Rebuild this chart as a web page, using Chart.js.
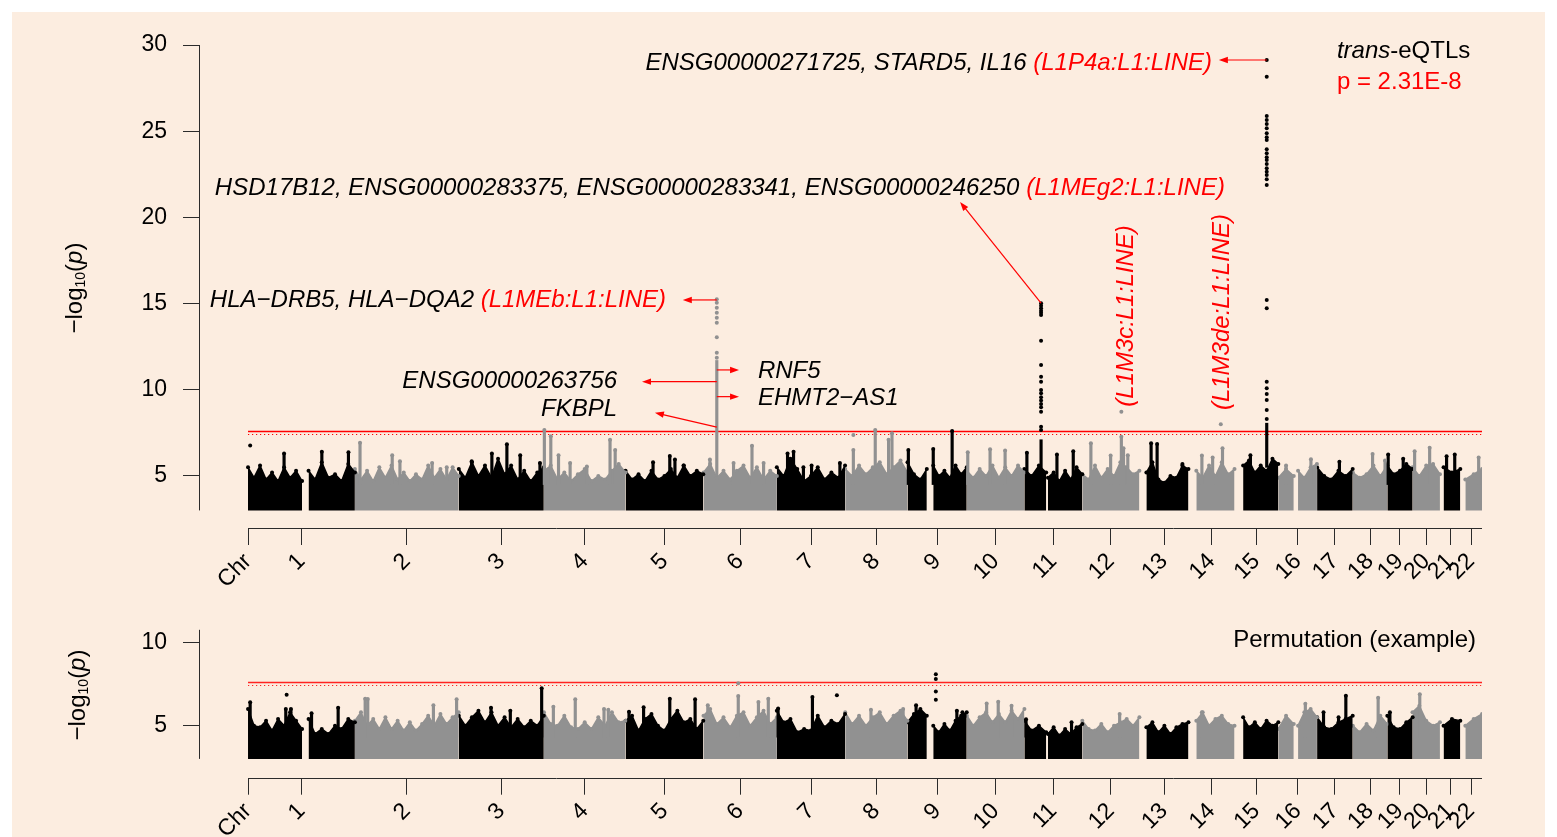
<!DOCTYPE html>
<html>
<head>
<meta charset="utf-8">
<title>trans-eQTL Manhattan plot</title>
<script src="https://cdn.jsdelivr.net/npm/chart.js@4.4.1/dist/chart.umd.min.js"></script>
<style>
  html, body { margin: 0; padding: 0; background: #ffffff; }
  body { position: relative; width: 1557px; height: 837px; overflow: hidden; }
  #paper { position: absolute; left: 12px; top: 12px; width: 1533px; height: 825px; background: #fcede0; }
  canvas { position: absolute; left: 0; }
  #mainChart { top: 0; }
  #permChart { top: 600px; }
</style>
</head>
<body>
<div id="paper"></div>
<canvas id="mainChart" width="1557" height="600"></canvas>
<canvas id="permChart" width="1557" height="237"></canvas>
<script>
const FONT = '"Liberation Sans", Arial, Helvetica, sans-serif';
const BLACK = '#000000';
const GREY = '#919191';
const RED = '#ff0000';
const AXIS = '#2b2b2b';
const TEXT_SIZE = 24;

// ---- data -------------------------------------------------------------

const chromosomes = ['1', '2', '3', '4', '5', '6', '7', '8', '9', '10', '11',
  '12', '13', '14', '15', '16', '17', '18', '19', '20', '21', '22'];
const chromLengths = [248.96, 242.19, 198.30, 190.21, 181.54, 170.81, 159.35, 145.14,
  138.39, 133.80, 135.09, 133.28, 114.36, 107.04, 101.99, 90.34, 83.26, 80.37,
  58.62, 64.44, 46.71, 50.82]; // Mb
const tickLabels = ['Chr', ...chromosomes];

// stretches of each chromosome that carry tested SNPs: [chr, from Mb, to Mb]
const segments = [
  [1, 0, 126], [1, 141, 249], [2, 0, 242], [3, 0, 198], [4, 0, 190], [5, 0, 181],
  [6, 0, 171], [7, 0, 159], [8, 0, 145], [9, 0, 45], [9, 60, 138], [10, 0, 134],
  [11, 0, 51], [11, 55, 135], [12, 0, 133], [13, 16, 114], [14, 18, 107], [15, 20, 102],
  [16, 0, 36], [16, 46, 90], [17, 0, 83], [18, 0, 80], [19, 0, 59], [20, 0, 64],
  [21, 8, 47], [22, 12, 51]
];

const thresholds = [7.636, 7.46]; // -log10(2.31E-8) solid, dotted reference

// upper edge of the dense SNP cloud, read along each segment (trans-eQTLs)
const mainEnvelope = [
  [5.5, 4.9, 5.6, 4.8, 5.2, 4.7, 5.5, 4.9, 5.3, 4.7],
  [5.3, 4.8, 5.8, 4.9, 5.1, 4.7, 5.7, 5.2],
  [5.4, 4.8, 5.3, 4.7, 5.5, 4.9, 5.6, 4.8, 5.2, 4.7, 5.1, 4.8, 5.6, 4.9, 5.4, 4.8, 5.5, 5.0],
  [5.4, 4.9, 5.8, 5.0, 5.6, 4.9, 6.0, 5.1, 5.6, 4.8, 5.3, 4.7, 5.2, 5.5],
  [5.3, 5.6, 4.8, 5.2, 4.7, 5.1, 5.4, 4.7, 5.0, 4.8, 5.3, 5.7, 5.2],
  [5.3, 4.8, 5.1, 4.7, 5.3, 4.8, 5.0, 5.4, 4.9, 5.6, 5.0, 5.3, 5.1],
  [5.2, 5.7, 4.9, 5.3, 4.8, 5.3, 5.6, 4.9, 5.5, 4.8, 5.3, 5.0],
  [5.5, 5.0, 6.0, 5.4, 4.7, 5.0, 5.5, 4.8, 5.2, 4.9, 5.6],
  [5.4, 5.0, 5.6, 5.1, 5.5, 5.8, 5.1, 5.5, 5.9, 5.2],
  [5.8, 5.1, 4.8, 5.4],
  [5.6, 5.0, 5.3, 4.9, 5.6, 5.1, 5.5],
  [5.3, 4.9, 5.4, 5.0, 5.6, 4.9, 5.5, 5.0, 5.6, 5.2],
  [5.4, 5.0, 5.6, 5.2],
  [4.9, 5.2, 4.7, 5.3, 4.8, 5.5, 5.1],
  [5.1, 4.8, 5.6, 4.9, 5.4, 5.0, 5.8, 5.5, 5.1, 5.3],
  [5.2, 5.8, 4.8, 4.6, 5.0, 4.9, 5.6, 5.4],
  [5.3, 4.9, 5.6, 5.0, 5.8, 5.1, 5.4],
  [5.6, 5.9, 5.2, 5.6, 5.3, 6.0, 5.7],
  [4.9, 5.4, 5.0],
  [5.3, 4.9, 5.5, 5.7],
  [5.5, 5.0, 4.8, 5.3, 5.0, 5.4],
  [5.2, 4.9, 5.1, 5.6, 5.0, 5.6],
  [5.6, 5.1, 5.3, 5.7, 5.4],
  [5.5, 5.0, 5.6, 5.7, 5.1],
  [5.5, 5.2, 5.4],
  [4.8, 5.1, 5.4]
];

// thin columns of SNPs rising above the cloud: [chr, Mb, top]
const mainSpikes = [
  [1, 84, 6.3], [1, 172, 6.4], [1, 234, 6.37],
  [2, 12, 6.93], [2, 87, 6.2], [2, 105, 5.85], [2, 180, 5.75], [2, 214, 5.5],
  [3, 30, 5.85], [3, 77, 6.3], [3, 112, 6.84], [3, 143, 6.2], [3, 189, 5.75],
  [4, 1, 7.67], [4, 16, 7.3], [4, 34, 6.2], [4, 61, 5.75], [4, 100, 5.55], [4, 154, 7.1], [4, 166, 6.5],
  [5, 64, 5.8], [5, 103, 6.15], [5, 115, 5.95], [5, 135, 5.6],
  [6, 15, 5.95], [6, 70, 5.75], [6, 113, 6.75], [6, 140, 5.75],
  [7, 25, 6.3], [7, 39, 6.4], [7, 62, 5.5], [7, 81, 5.6], [7, 147, 5.75],
  [8, 19, 6.5], [8, 70, 7.67], [8, 101, 7.1], [8, 109, 7.48],
  [9, 2, 6.5], [9, 60, 6.57], [9, 104, 7.6],
  [10, 2, 6.37], [10, 54, 6.55], [10, 89, 6.47],
  [11, 6, 6.34], [11, 76, 6.24], [11, 114, 6.43],
  [12, 20, 6.9], [12, 66, 6.18], [12, 91, 7.28], [12, 96, 6.6], [12, 106, 6.2],
  [13, 27, 6.9], [13, 41, 6.85], [13, 100, 5.7],
  [14, 31, 6.18], [14, 56, 6.07], [14, 79, 6.6],
  [15, 37, 6.2],
  [16, 18, 5.6], [16, 76, 5.97],
  [17, 52, 5.83],
  [18, 46, 6.28], [18, 75, 5.9],
  [19, 2, 6.24], [19, 37, 6.0],
  [20, 5, 6.43], [20, 40, 6.63],
  [21, 15, 6.14], [21, 34, 6.24],
  [22, 43, 6.07]
];

// single SNPs standing clear of the cloud: [chr, Mb, -log10 p]
const mainHits = [[1, 5, 6.76], [8, 19, 7.38], [12, 91, 8.73], [14, 75, 8.0]];

// the three lead trans-eQTL loci (chr6 HLA, chr11, chr15)
const leadLoci = [[6, 31], [11, 39], [15, 75]];
const leadColumns = [[5.0, 11.7], [5.0, 7.1], [5.5, 8.06]];
const leadValues = [
  [15.25, 15.05, 14.75, 14.46, 14.17, 13.88, 13.05, 12.15, 11.85],
  [15.02, 14.87, 14.73, 14.59, 14.47, 14.34, 12.85, 11.44, 10.76, 10.47, 9.99, 9.8,
    9.57, 9.37, 9.18, 8.99, 8.73, 7.86, 7.67],
  [29.13, 28.16, 25.88, 25.65, 25.42, 25.17, 24.88, 24.65, 24.49, 23.95, 23.72, 23.49,
    23.33, 23.1, 22.85, 22.65, 22.46, 22.21, 21.88, 15.21, 14.73, 10.47, 10.09, 9.76,
    9.41, 8.83, 8.31]
];

// permutation (example)
const permEnvelope = [
  [6.0, 5.0, 4.9, 5.3, 4.7, 5.4, 5.0, 5.8, 5.3, 4.8],
  [5.4, 4.5, 4.8, 4.5, 5.0, 4.8, 5.4, 5.2],
  [5.3, 5.8, 5.0, 5.4, 4.8, 5.5, 4.8, 5.3, 4.7, 5.2, 4.7, 5.1, 5.6, 5.0, 5.7, 5.1, 5.5, 5.8],
  [5.6, 5.0, 5.5, 5.9, 5.2, 5.8, 5.0, 5.5, 4.9, 5.4, 4.9, 5.3, 5.0, 5.6],
  [5.8, 5.1, 5.0, 5.6, 4.9, 4.8, 5.2, 4.8, 5.5, 5.0, 5.8, 5.2, 5.3],
  [5.3, 5.6, 4.7, 5.4, 5.7, 5.0, 4.7, 5.4, 5.9, 5.2, 5.4, 4.8, 5.3],
  [5.6, 6.0, 5.1, 5.5, 4.9, 5.6, 5.8, 5.0, 5.5, 5.9, 5.1, 5.5],
  [5.9, 5.2, 5.4, 4.6, 4.8, 4.7, 5.6, 4.9, 5.3, 5.1, 5.7],
  [5.8, 5.1, 5.6, 5.0, 5.5, 5.8, 5.1, 5.6, 5.9, 5.3],
  [5.2, 5.7, 6.0, 5.6],
  [5.0, 4.6, 5.1, 4.7, 5.3, 5.6, 5.8],
  [5.6, 5.0, 5.5, 5.8, 5.2, 5.7, 5.2, 5.9, 5.4, 6.0],
  [5.3, 4.7, 5.0, 4.6],
  [4.5, 4.9, 4.4, 4.8, 4.5, 4.9, 5.1],
  [5.3, 4.8, 4.7, 5.1, 4.6, 5.0, 5.2, 5.4, 5.0, 5.5],
  [4.9, 5.2, 4.6, 5.0, 4.5, 4.9, 5.1, 5.2],
  [5.3, 5.8, 5.0, 5.4, 5.6, 5.1, 5.0],
  [5.5, 4.9, 5.2, 4.8, 5.3, 5.0, 5.2],
  [4.8, 5.6, 5.1],
  [5.0, 5.8, 6.0, 5.5],
  [5.5, 4.9, 4.8, 5.2, 5.4, 5.6],
  [5.0, 4.6, 5.1, 4.7, 5.6, 5.1],
  [5.6, 4.9, 4.8, 5.2, 5.5],
  [5.8, 6.2, 5.3, 5.0, 5.2],
  [5.0, 5.4, 5.3],
  [5.0, 5.4, 5.7]
];
const permSpikes = [
  [1, 5, 6.4], [1, 88, 6.0], [1, 100, 6.0], [1, 148, 5.75], [1, 210, 6.07],
  [2, 24, 6.62], [2, 30, 6.6], [2, 183, 6.23], [2, 237, 6.58],
  [3, 75, 6.07], [3, 120, 5.9], [3, 193, 7.25],
  [4, 22, 6.13], [4, 73, 6.58], [4, 140, 6.0], [4, 150, 5.95],
  [5, 8, 5.84], [5, 42, 6.1], [5, 103, 6.62], [5, 162, 6.58],
  [6, 10, 6.23], [6, 81, 6.78], [6, 128, 6.42], [6, 151, 6.62],
  [7, 3, 6.03], [7, 83, 6.72],
  [8, 60, 5.95], [8, 135, 6.0],
  [9, 20, 6.23], [9, 115, 5.9], [9, 128, 5.8],
  [10, 46, 6.33], [10, 73, 6.43], [10, 104, 6.2],
  [11, 4, 5.38], [11, 110, 5.2],
  [12, 87, 5.7],
  [14, 31, 5.8],
  [16, 63, 6.32],
  [17, 15, 5.8], [17, 50, 5.5], [17, 67, 6.8],
  [18, 59, 6.68],
  [19, 6, 5.8],
  [20, 17, 6.89]
];
const permHits = [[1, 90, 6.86], [6, 81, 7.54], [7, 140, 6.82],
  [9, 66, 8.09], [9, 66, 7.8], [9, 66, 7.05], [9, 66, 6.55]];

// ---- helpers ----------------------------------------------------------

const chromStart = [];
let genomeLength = 0;
chromLengths.forEach(len => { chromStart.push(genomeLength); genomeLength += len; });
const chromMid = chromLengths.map((len, i) => chromStart[i] + len / 2);

const gx = (chr, pos) => chromStart[chr - 1] + pos;
const colorOf = chr => (chr % 2 ? BLACK : GREY);
const font = (size, italic) => (italic ? 'italic ' : '') + size + 'px ' + FONT;

function bandDatasets(envelope) {
  return segments.map(([chr, from, to], i) => {
    const tops = envelope[i];
    const step = (to - from) / (tops.length - 1);
    const c = colorOf(chr);
    return {
      type: 'line',
      data: tops.map((y, k) => ({ x: gx(chr, from + k * step), y })),
      borderColor: c,
      backgroundColor: c,
      borderWidth: 1.5,
      pointRadius: 2,
      pointBorderWidth: 0,
      pointBackgroundColor: c,
      tension: 0,
      fill: { value: 3 },
      order: 3
    };
  });
}

function columnDatasets(cols, thickness) {
  return [BLACK, GREY].map(c => ({
    type: 'bar',
    data: cols.filter(col => colorOf(col.chr) === c).map(col => ({ x: gx(col.chr, col.pos), y: [col.lo, col.hi] })),
    backgroundColor: c,
    barThickness: thickness,
    grouped: false,
    order: 2
  }));
}

function dotDatasets(dots) {
  return [BLACK, GREY].map(c => ({
    type: 'scatter',
    data: dots.filter(d => colorOf(d[0]) === c).map(([chr, pos, y]) => ({ x: gx(chr, pos), y })),
    pointRadius: 2,
    pointBorderWidth: 0,
    pointBackgroundColor: c,
    order: 1
  }));
}

function drawParts(ctx, parts, x, y, align, size) {
  const widths = parts.map(([t, , it]) => { ctx.font = font(size, it); return ctx.measureText(t).width; });
  const total = widths.reduce((a, b) => a + b, 0);
  let cx = align === 'right' ? x - total : align === 'center' ? x - total / 2 : x;
  ctx.textAlign = 'left';
  ctx.textBaseline = 'middle';
  parts.forEach(([t, c, it], i) => {
    ctx.font = font(size, it);
    ctx.fillStyle = c;
    ctx.fillText(t, cx, y);
    cx += widths[i];
  });
}

function drawArrow(ctx, x0, y0, x1, y1) {
  const a = Math.atan2(y1 - y0, x1 - x0);
  const cos = Math.cos(a), sin = Math.sin(a);
  ctx.beginPath();
  ctx.moveTo(x0, y0);
  ctx.lineTo(x1 - 6 * cos, y1 - 6 * sin);
  ctx.stroke();
  ctx.beginPath();
  ctx.moveTo(x1, y1);
  ctx.lineTo(x1 - 9 * cos + 3.2 * sin, y1 - 9 * sin - 3.2 * cos);
  ctx.lineTo(x1 - 9 * cos - 3.2 * sin, y1 - 9 * sin + 3.2 * cos);
  ctx.closePath();
  ctx.fill();
}

function drawYTitle(ctx, x, y) {
  const parts = [['\u2212log', 24, false, 0], ['10', 14, false, 6], ['(', 24, false, 0], ['p', 24, true, 0], [')', 24, false, 0]];
  ctx.save();
  ctx.translate(x, y);
  ctx.rotate(-Math.PI / 2);
  const widths = parts.map(([t, s, it]) => { ctx.font = font(s, it); return ctx.measureText(t).width; });
  let cx = -widths.reduce((a, b) => a + b, 0) / 2;
  ctx.fillStyle = BLACK;
  ctx.textAlign = 'left';
  ctx.textBaseline = 'middle';
  parts.forEach(([t, s, it, dy], i) => {
    ctx.font = font(s, it);
    ctx.fillText(t, cx, dy);
    cx += widths[i];
  });
  ctx.restore();
}

// axis lines, threshold lines, labels and arrows
const decorPlugin = {
  id: 'decor',
  beforeDatasetsDraw(chart, args, opts) {
    const { ctx, scales: { x, y } } = chart;
    const x0 = x.getPixelForValue(0), x1 = x.getPixelForValue(genomeLength);
    ctx.save();
    ctx.strokeStyle = opts.redLine;
    ctx.lineWidth = 1.3;
    let py = Math.round(y.getPixelForValue(thresholds[0])) + 0.5;
    ctx.beginPath(); ctx.moveTo(x0, py); ctx.lineTo(x1, py); ctx.stroke();
    ctx.lineWidth = 1;
    ctx.setLineDash([1.2, 2.8]);
    py = Math.round(y.getPixelForValue(thresholds[1])) + 0.5;
    ctx.beginPath(); ctx.moveTo(x0, py); ctx.lineTo(x1, py); ctx.stroke();
    ctx.restore();
  },
  afterDraw(chart, args, opts) {
    const { ctx, chartArea, scales: { x, y } } = chart;
    ctx.save();
    ctx.strokeStyle = AXIS;
    ctx.lineWidth = 1;
    const ax = Math.round(chartArea.left) + 0.5;
    ctx.beginPath();
    ctx.moveTo(ax, y.getPixelForValue(opts.yAxisTop));
    ctx.lineTo(ax, y.getPixelForValue(3));
    ctx.stroke();
    const by = Math.round(chartArea.bottom) + 0.5;
    ctx.beginPath();
    ctx.moveTo(x.getPixelForValue(0), by);
    ctx.lineTo(x.getPixelForValue(genomeLength), by);
    ctx.stroke();

    drawYTitle(ctx, chartArea.left - opts.titleOffset, y.getPixelForValue(opts.titleAt));

    ctx.strokeStyle = RED;
    ctx.fillStyle = RED;
    ctx.lineWidth = 1.2;
    (opts.arrows || []).forEach(([fx, fy, tx, ty]) => {
      drawArrow(ctx, x.getPixelForValue(fx), y.getPixelForValue(fy), x.getPixelForValue(tx), y.getPixelForValue(ty));
    });

    (opts.labels || []).forEach(l => {
      const px = x.getPixelForValue(l.at[0]), py = y.getPixelForValue(l.at[1]);
      if (l.vertical) {
        ctx.save();
        ctx.translate(px, py);
        ctx.rotate(-Math.PI / 2);
        drawParts(ctx, l.parts, 0, 0, 'center', TEXT_SIZE);
        ctx.restore();
      } else {
        drawParts(ctx, l.parts, px, py, l.align, TEXT_SIZE);
      }
    });
    ctx.restore();
  }
};

function makeChart(id, cfg) {
  const datasets = [
    ...dotDatasets(cfg.dots),
    ...columnDatasets(cfg.columns, 2.5),
    ...bandDatasets(cfg.envelope)
  ];
  return new Chart(document.getElementById(id), {
    type: 'scatter',
    data: { datasets },
    plugins: [decorPlugin],
    options: {
      responsive: false,
      animation: false,
      devicePixelRatio: 1,
      events: [],
      layout: { padding: { top: cfg.top, right: 75, bottom: 0, left: 0 } },
      plugins: {
        legend: { display: false },
        tooltip: { enabled: false },
        decor: cfg.decor
      },
      scales: {
        x: {
          type: 'linear',
          offset: false,
          min: -114.2,
          max: genomeLength,
          afterBuildTicks: s => { s.ticks = [0, ...chromMid].map(value => ({ value })); },
          afterFit: s => { s.height = cfg.xAxisHeight; s.paddingLeft = 0; s.paddingRight = 0; },
          ticks: {
            autoSkip: false,
            minRotation: 45,
            maxRotation: 45,
            padding: 3,
            color: BLACK,
            font: { family: FONT, size: 23 },
            callback: (v, i) => tickLabels[i]
          },
          grid: { offset: false, drawOnChartArea: false, drawTicks: true, tickLength: 17, color: AXIS, lineWidth: 1 },
          border: { display: false }
        },
        y: {
          type: 'linear',
          min: cfg.yMin,
          max: cfg.yMax,
          afterBuildTicks: s => { s.ticks = cfg.yTicks.map(value => ({ value })); },
          afterFit: s => { s.width = 199; },
          ticks: { padding: 16, color: BLACK, font: { family: FONT, size: 23 } },
          grid: { offset: false, drawOnChartArea: false, drawTicks: true, tickLength: 16, color: AXIS, lineWidth: 1 },
          border: { display: false }
        }
      }
    }
  });
}

// ---- top panel: trans-eQTLs -------------------------------------------

const mainColumns = [
  ...mainSpikes.map(([chr, pos, hi]) => ({ chr, pos, lo: 4.5, hi })),
  ...leadLoci.map(([chr, pos], i) => ({ chr, pos, lo: leadColumns[i][0], hi: leadColumns[i][1] }))
];
const mainDots = [
  ...mainSpikes,
  ...mainHits,
  ...leadLoci.flatMap(([chr, pos], i) => leadValues[i].map(v => [chr, pos, v]))
];

const hla = gx(6, 31), l11 = gx(11, 39), l15 = gx(15, 75);

makeChart('mainChart', {
  top: 45,
  xAxisHeight: 72,
  yMin: 1.98,
  yMax: 30,
  yTicks: [5, 10, 15, 20, 25, 30],
  envelope: mainEnvelope,
  columns: mainColumns,
  dots: mainDots,
  decor: {
    redLine: RED,
    yAxisTop: 30,
    titleOffset: 124,
    titleAt: 15.9,
    arrows: [
      [l15, 29.13, 2262, 29.13],
      [l11, 15.02, 1659, 20.89],
      [hla, 15.21, 1013, 15.21],
      [hla, 11.15, 1144, 11.15],
      [hla, 9.6, 1144, 9.6],
      [hla, 10.47, 918, 10.47],
      [hla, 7.83, 948, 8.67]
    ],
    labels: [
      { at: [2246, 28.95], align: 'right', parts: [['ENSG00000271725, STARD5, IL16 ', BLACK, true], ['(L1P4a:L1:LINE)', RED, true]] },
      { at: [2276, 21.7], align: 'right', parts: [['HSD17B12, ENSG00000283375, ENSG00000283341, ENSG00000246250 ', BLACK, true], ['(L1MEg2:L1:LINE)', RED, true]] },
      { at: [974, 15.2], align: 'right', parts: [['HLA\u2212DRB5, HLA\u2212DQA2 ', BLACK, true], ['(L1MEb:L1:LINE)', RED, true]] },
      { at: [1188, 11.08], align: 'left', parts: [['RNF5', BLACK, true]] },
      { at: [1188, 9.5], align: 'left', parts: [['EHMT2\u2212AS1', BLACK, true]] },
      { at: [860, 10.5], align: 'right', parts: [['ENSG00000263756', BLACK, true]] },
      { at: [860, 8.87], align: 'right', parts: [['FKBPL', BLACK, true]] },
      { at: [2046, 14.28], vertical: true, parts: [['(L1M3c:L1:LINE)', RED, true]] },
      { at: [2269, 14.51], vertical: true, parts: [['(L1M3de:L1:LINE)', RED, true]] },
      { at: [2537, 29.64], align: 'left', parts: [['trans', BLACK, true], ['-eQTLs', BLACK, false]] },
      { at: [2537, 27.84], align: 'left', parts: [['p = 2.31E-8', RED, false]] }
    ]
  }
});

// ---- bottom panel: permutation ----------------------------------------

makeChart('permChart', {
  top: 26,
  xAxisHeight: 59.3,
  yMin: 1.87,
  yMax: 10.76,
  yTicks: [5, 10],
  envelope: permEnvelope,
  columns: permSpikes.map(([chr, pos, hi]) => ({ chr, pos, lo: 4.3, hi })),
  dots: [...permSpikes, ...permHits],
  decor: {
    redLine: 'rgba(255, 0, 0, 0.85)',
    yAxisTop: 10.76,
    titleOffset: 121,
    titleAt: 6.84,
    labels: [
      { at: [2861, 10.12], align: 'right', parts: [['Permutation (example)', BLACK, false]] }
    ]
  }
});
</script>
</body>
</html>
